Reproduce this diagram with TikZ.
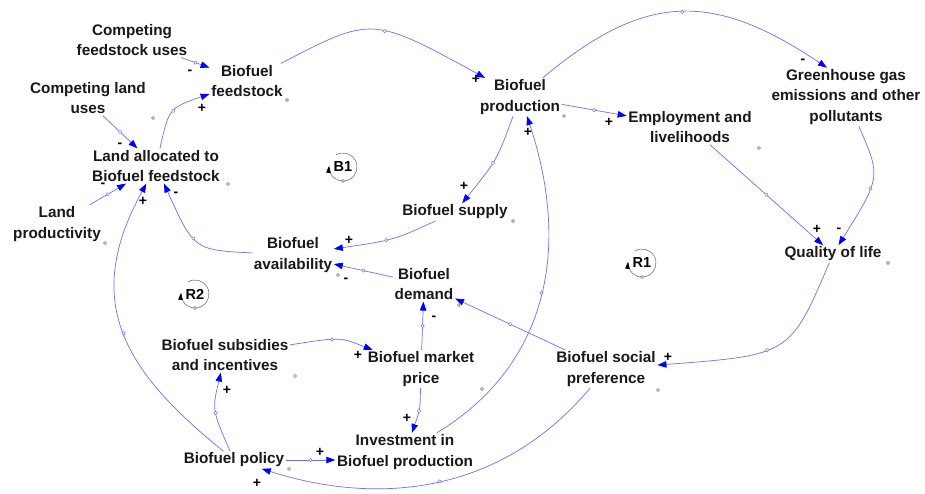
\documentclass[tikz,border=0pt]{standalone}
\usepackage{fontspec}
\setmainfont{Liberation Sans}
\usetikzlibrary{arrows.meta,decorations.markings}

\definecolor{linkblue}{RGB}{110,110,255}
\definecolor{tipblue}{RGB}{0,0,255}
\definecolor{inkgray}{RGB}{120,120,120}

\tikzset{
  var/.style={font=\bfseries\fontsize{15.3}{20.5}\selectfont, align=center,
    inner sep=1.5pt, text=black!90},
  link/.style={draw=linkblue, line width=0.7pt,
    -{Triangle[length=9pt,width=6.5pt,color=tipblue]},
    postaction={decorate},
    decoration={markings, mark=at position 0.5 with
      {\draw[linkblue,fill=white,line width=0.5pt] (0,0) circle (1.7pt);}}},
  sign/.style={font=\bfseries\fontsize{14}{14}\selectfont, inner sep=0pt},
  looplbl/.style={font=\bfseries\fontsize{14.5}{14.5}\selectfont, inner sep=1pt},
  hollowdot/.style={draw=inkgray, fill=white, line width=0.5pt},
  greydot/.style={fill=black!30},
}

% loop marker: open ring with an upward pointing tip on the left
\newcommand{\loopmark}[3]{%
  \node[looplbl] (#1) at (#2) {#3};
  \draw[inkgray, line width=0.6pt, -{Triangle[length=7pt,width=4.5pt,color=black]}]
    (#1.center) ++(120:14pt) arc[start angle=120, end angle=-185, radius=14pt];
  \draw[hollowdot] (#1.center) ++(0pt,-14pt) circle (1.5pt);
}

\begin{document}
\begin{tikzpicture}[x=1pt,y=-1pt]
\useasboundingbox (0,0) rectangle (925,494);
\fill[white] (0,0) rectangle (925,494);

% ---------------- variables ----------------
\node[var] (cfu)    at (132,40)  {Competing\\feedstock uses};
\node[var] (feed)   at (247,81)  {Biofuel\\feedstock};
\node[var] (clu)    at (88,98)   {Competing land\\uses};
\node[var] (land)   at (156,166) {Land allocated to\\Biofuel feedstock};
\node[var] (lp)     at (57,224)  {Land\\productivity};
\node[var] (prod)   at (520,97)  {Biofuel\\production};
\node[var] (employ) at (690,127) {Employment and\\livelihoods};
\node[var] (ghg)    at (846,97)  {Greenhouse gas\\emissions and other\\pollutants};
\node[var] (qol)    at (833,254) {Quality of life};
\node[var] (supply) at (455,212) {Biofuel supply};
\node[var] (avail)  at (293,255) {Biofuel\\availability};
\node[var] (demand) at (424,284) {Biofuel\\demand};
\node[var] (subs)   at (225,355) {Biofuel subsidies\\and incentives};
\node[var] (price)  at (421,369) {Biofuel market\\price};
\node[var] (pref)   at (606,369) {Biofuel social\\preference};
\node[var] (policy) at (234,460) {Biofuel policy};
\node[var] (invest) at (405,452) {Investment in\\Biofuel production};

% ---------------- loop markers ----------------
\loopmark{B1}{343,167}{B1}
\loopmark{R1}{642,263}{R1}
\loopmark{R2}{195,294}{R2}

% ---------------- causal links ----------------
\draw[link] (cfu) -- (feed);
\draw[link] (clu.-50) -- (land);
\draw[link] (land) .. controls (169,108) .. (feed);
\draw[link] (lp) -- (land);
\draw[link] (policy.140) .. controls (120,368) and (83,299) .. (land);
\draw[link] (avail) .. controls (194,250) .. (land);
\draw[link] (feed) .. controls (372,16) .. (prod);
\draw[link] (prod) .. controls (497,160) .. (supply);
\draw[link] (supply) .. controls (394,240) .. (avail);
\draw[link] (demand) -- (avail);
\draw[link] (price) -- (demand);
\draw[link] (price) .. controls (420,410) .. (invest);
\draw[link] (subs) .. controls (340,337) .. (price);
\draw[link] (policy) .. controls (212,410) .. (subs);
\draw[link] (policy.east) -- (invest.west |- policy.east);
\draw[link] (pref) .. controls (503,492) and (382,507) .. (policy);
\draw[link] (pref) -- (demand);
\draw[link] (invest) .. controls (541,370) and (574,258) .. (prod.-70);
\draw[link] (prod) -- (employ);
\draw[link] (prod) .. controls (646,-9) and (714,-8) .. (ghg.123);
\draw[link] (employ) -- (qol);
\draw[link] (ghg) .. controls (881,177) .. (qol);
\draw[link] (qol) .. controls (790,355) .. (pref);

% ---------------- polarities ----------------
\node[sign] (s1)  at (190,72)  {-};
\node[sign] (s2)  at (120,145) {-};
\node[sign] (s3)  at (202,108) {+};
\node[sign] (s4)  at (103,185) {-};
\node[sign] (s5)  at (143,201) {+};
\node[sign] (s6)  at (176,194) {-};
\node[sign] (s7)  at (476,79)  {+};
\node[sign] (s8)  at (464,186) {+};
\node[sign] (s9)  at (349,240) {+};
\node[sign] (s10) at (346,280) {-};
\node[sign] (s11) at (434,318) {-};
\node[sign] (s12) at (407,418) {+};
\node[sign] (s13) at (358,355) {+};
\node[sign] (s14) at (227,390) {+};
\node[sign] (s15) at (320,452) {+};
\node[sign] (s16) at (257,483) {+};
\node[sign] (s18) at (528,132) {+};
\node[sign] (s19) at (609,122) {+};
\node[sign] (s20) at (803,61)  {-};
\node[sign] (s21) at (817,229) {+};
\node[sign] (s22) at (839,230) {-};
\node[sign] (s23) at (668,357) {+};

% ---------------- small variable handles ----------------
\fill[greydot] (287,100) circle (2pt);
\fill[greydot] (513,221) circle (2pt);
\fill[greydot] (459,305) circle (2pt);
\fill[greydot] (888,263) circle (2pt);
\draw[hollowdot] (228,184) circle (1.5pt);
\draw[hollowdot] (105,243) circle (1.5pt);
\draw[hollowdot] (153,118) circle (1.5pt);
\draw[hollowdot] (564,116) circle (1.5pt);
\draw[hollowdot] (338,275) circle (1.5pt);
\draw[hollowdot] (295,376) circle (1.5pt);
\draw[hollowdot] (482,389) circle (1.5pt);
\draw[hollowdot] (658,390) circle (1.5pt);
\draw[hollowdot] (759,148) circle (1.5pt);
\draw[hollowdot] (289,469) circle (1.5pt);
\end{tikzpicture}
\end{document}
